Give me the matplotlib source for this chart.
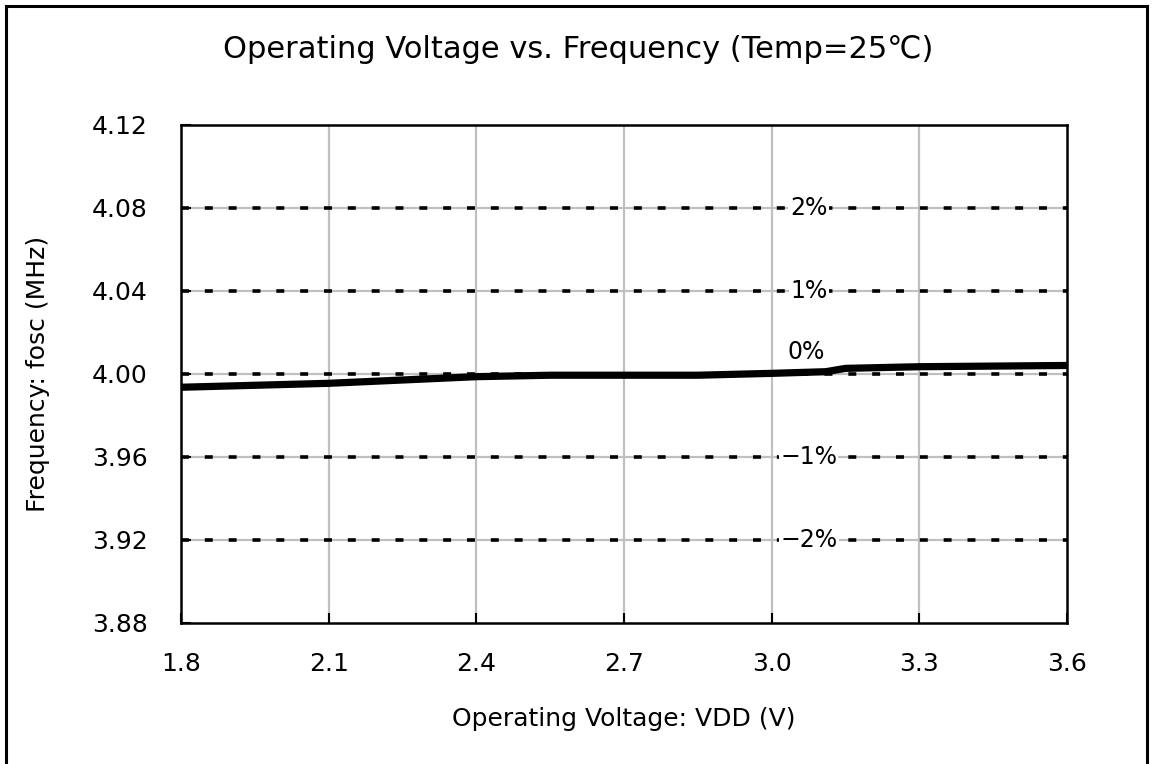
import matplotlib
matplotlib.use("Agg")
import matplotlib.pyplot as plt
from matplotlib.patches import Rectangle

plt.rcParams['font.family'] = ['DejaVu Sans']

# measured curve (V, MHz)
vdd = [1.8, 2.1, 2.4, 2.55, 2.85, 3.0, 3.11, 3.15, 3.3, 3.6]
fosc = [3.9936, 3.9955, 3.9987, 3.9994, 3.9994, 4.0003, 4.0011, 4.0027, 4.0035, 4.0041]

# tolerance reference lines
tol_levels = [4.08, 4.04, 4.00, 3.96, 3.92]
tol_labels = ['2%', '1%', '0%', '\u22121%', '\u22122%']

x_ticks = [1.8, 2.1, 2.4, 2.7, 3.0, 3.3, 3.6]
x_ticklabels = ['1.8', '2.1', '2.4', '2.7', '3.0', '3.3', '3.6']
y_ticks = [3.88, 3.92, 3.96, 4.00, 4.04, 4.08, 4.12]
y_ticklabels = ['3.88', '3.92', '3.96', '4.00', '4.04', '4.08', '4.12']

fig = plt.figure(figsize=(11.53, 7.64), dpi=100)
ax = fig.add_axes([0.157, 0.1846, 0.7684, 0.6518])

# outer frame (bottom runs off the image)
fig.patches.append(Rectangle((6 / 1153, -0.05), 1141 / 1153, 1 - 6 / 764 + 0.05,
                             transform=fig.transFigure, fill=False,
                             edgecolor='black', linewidth=2.2, clip_on=False))

ax.set_xlim(1.8, 3.6)
ax.set_ylim(3.88, 4.12)

# grey grid
for xv in x_ticks[1:-1]:
    ax.axvline(xv, color='#c0c0c0', linewidth=1.6, zorder=1)
for yv in tol_levels:
    ax.axhline(yv, color='#c0c0c0', linewidth=1.6, zorder=1)
    ax.axhline(yv, color='black', linewidth=2.6, linestyle=(0, (2.2, 4.4)), zorder=2)

for yv, lab in zip(tol_levels, tol_labels):
    if lab == '0%':
        ax.text(3.07, yv + 0.0105, lab, ha='center', va='center', fontsize=17, zorder=3)
    else:
        ax.text(3.075, yv, lab, ha='center', va='center', fontsize=17, zorder=3,
                bbox=dict(facecolor='white', edgecolor='none', pad=1))

ax.plot(vdd, fosc, color='black', linewidth=5.2, zorder=4,
        solid_capstyle='butt', solid_joinstyle='bevel')

ax.set_xticks(x_ticks)
ax.set_xticklabels(x_ticklabels)
ax.set_yticks(y_ticks)
ax.set_yticklabels(y_ticklabels)
ax.tick_params(direction='in', length=7, width=1.5, labelsize=18)
ax.tick_params(axis='y', pad=24)
ax.tick_params(axis='x', pad=21)
for s in ax.spines.values():
    s.set_linewidth(1.8)

ax.set_xlabel('Operating Voltage: VDD (V)', fontsize=18, labelpad=22)
ax.set_ylabel('Frequency: fosc (MHz)', fontsize=18, labelpad=30)
fig.text(0.5015, 1 - 50 / 764, 'Operating Voltage vs. Frequency (Temp=25\u2103)',
         ha='center', va='center', fontsize=22)

fig.savefig('out.png', dpi=100)
